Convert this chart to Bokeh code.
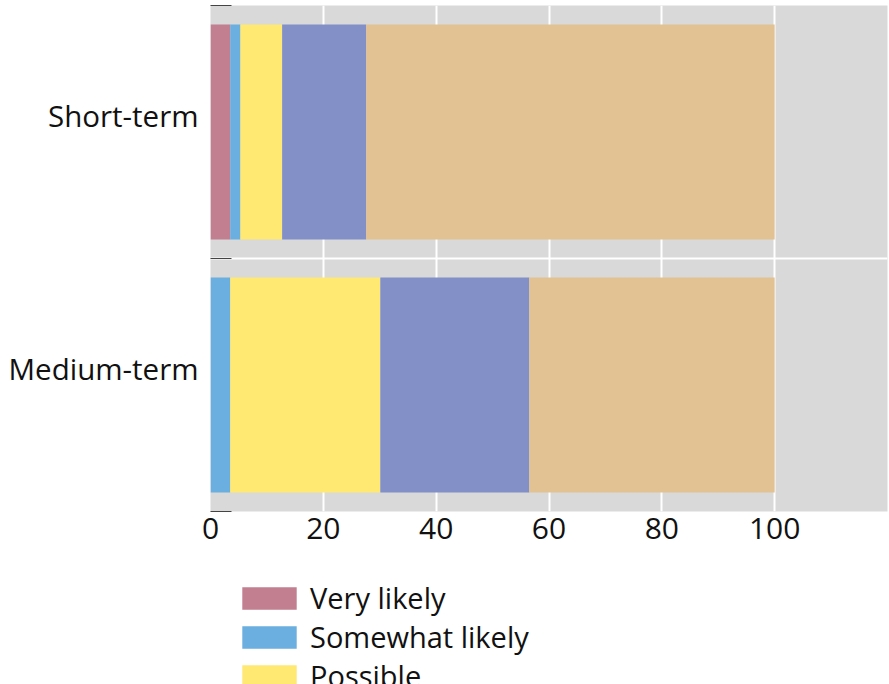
from bokeh.plotting import figure
from bokeh.models import ColumnDataSource, Range1d, FixedTicker, Legend
from bokeh.layouts import column
from bokeh.embed import file_html
from bokeh.resources import INLINE

# ---- data ----
categories = ["Short-term", "Medium-term"]
series = ["Very likely", "Somewhat likely", "Possible", "Unlikely", "Very unlikely"]
very_likely = [3.5, 0.0]
somewhat_likely = [1.8, 3.5]
possible = [7.4, 26.6]
unlikely = [14.9, 26.4]
very_unlikely = [72.4, 43.5]
colors = ["#c27f8f", "#6baee0", "#ffe973", "#8290c7", "#e2c292"]
x_ticks = [0, 20, 40, 60, 80, 100]

FONT = "Open Sans"
n = len(categories)
ypos = [n - i - 0.5 for i in range(n)]
keys = ["s%d" % i for i in range(len(series))]
values = [very_likely, somewhat_likely, possible, unlikely, very_unlikely]
source = ColumnDataSource(dict(y=ypos, **{k: v for k, v in zip(keys, values)}))

p = figure(width=889, height=560, output_backend="svg", toolbar_location=None,
           x_range=Range1d(0, 120), y_range=Range1d(0, n),
           min_border_left=210, min_border_right=2, min_border_top=5,
           min_border_bottom=49)
p.background_fill_color = "#d9d9d9"
p.border_fill_color = "white"
p.outline_line_color = None

p.hbar_stack(keys, y="y", height=0.85, color=colors, line_color=None, source=source)

# grids
p.xgrid.ticker = FixedTicker(ticks=x_ticks)
p.xgrid.grid_line_color = "white"
p.xgrid.grid_line_width = 2
p.ygrid.ticker = FixedTicker(ticks=list(range(1, n)))
p.ygrid.grid_line_color = "white"
p.ygrid.grid_line_width = 2

# x axis
p.xaxis.ticker = FixedTicker(ticks=x_ticks)
p.xaxis.axis_line_color = None
p.xaxis.major_tick_line_color = None
p.xaxis.minor_tick_line_color = None
p.xaxis.major_label_text_font = FONT
p.xaxis.major_label_text_font_size = "30px"
p.xaxis.major_label_text_color = "#111111"
p.xaxis.major_label_standoff = 0

# y axis
shift = 0.065
label_ticks = [y + shift for y in ypos]
p.yaxis.ticker = FixedTicker(ticks=label_ticks, minor_ticks=list(range(0, n + 1)))
p.yaxis.major_label_overrides = {t: c for t, c in zip(label_ticks, categories)}
p.yaxis.axis_line_color = None
p.yaxis.major_tick_line_color = None
p.yaxis.minor_tick_line_color = "#444444"
p.yaxis.minor_tick_in = 21
p.yaxis.minor_tick_out = 0
p.yaxis.major_label_text_font = FONT
p.yaxis.major_label_text_font_size = "29.5px"
p.yaxis.major_label_text_color = "#111111"
p.yaxis.major_label_standoff = 6

# legend strip below the chart (cut at the window's bottom edge, as in the reference)
q = figure(width=889, height=124, output_backend="svg", toolbar_location=None,
           x_axis_type=None, y_axis_type=None,
           min_border_left=0, min_border_right=0, min_border_top=0, min_border_bottom=0)
q.outline_line_color = None
q.grid.visible = False
q.background_fill_color = "white"
q.border_fill_color = "white"
legend_renderers = q.hbar_stack(keys, y="y", height=0.85, color=colors, line_color=None,
                                source=source, visible=False)

lg = Legend(items=[(s, [r]) for s, r in zip(series, legend_renderers)])
lg.location = (25, -89)
lg.orientation = "vertical"
lg.glyph_width = 68
lg.glyph_height = 28
lg.label_height = 39
lg.spacing = 0
lg.padding = 0
lg.margin = 0
lg.label_standoff = 7
lg.border_line_color = None
lg.background_fill_alpha = 0
lg.inactive_fill_alpha = 0
lg.label_text_font = FONT
lg.label_text_font_size = "29px"
lg.label_text_color = "#111111"
q.add_layout(lg, "center")

page = column(p, q, spacing=0)
open("out.html", "w").write(file_html(page, INLINE))
